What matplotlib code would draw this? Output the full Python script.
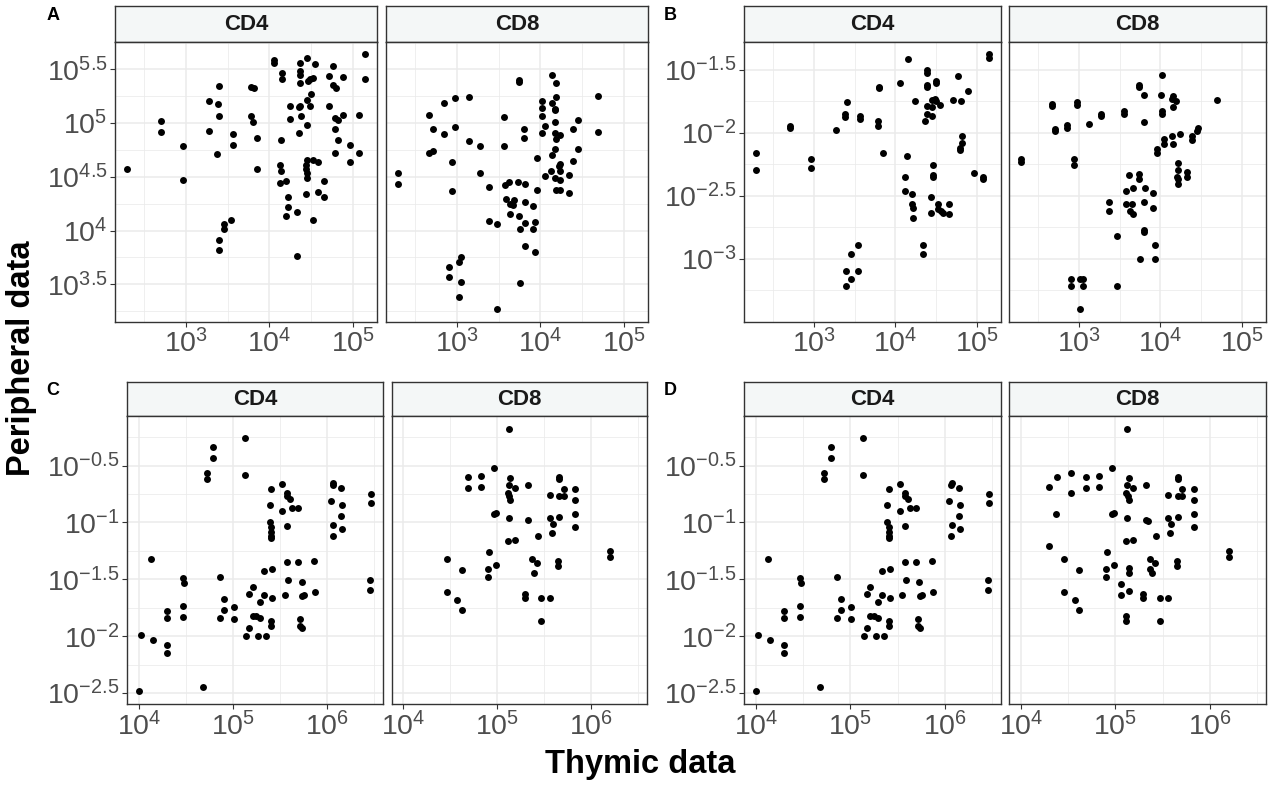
import numpy as np
import matplotlib
matplotlib.use('Agg')
import matplotlib.pyplot as plt
from matplotlib.ticker import FixedLocator, FuncFormatter

plt.rcParams.update({
    'font.family': ['Liberation Sans', 'DejaVu Sans'],
    'mathtext.fontset': 'custom',
    'mathtext.rm': 'Liberation Sans',
    'mathtext.it': 'Liberation Sans:italic',
    'mathtext.bf': 'Liberation Sans:bold',
})

# ---- data: log10(thymic), log10(peripheral) ----
A_CD4_x = [2.29, 2.70, 2.70, 2.96, 2.96, 3.27, 3.38, 3.40, 3.40, 3.27, 3.37, 3.56, 3.56, 3.54, 3.46, 3.46, 3.39, 3.39,
           3.78, 3.81, 3.78, 3.80, 3.85, 3.85, 4.05, 4.05, 4.15, 4.15, 4.24, 4.24, 4.14, 4.12, 4.14, 4.12, 4.20, 4.22,
           4.22, 4.20, 4.33, 4.33, 4.36, 4.45, 4.36, 4.36, 4.36, 4.46, 4.48, 4.52, 4.55, 4.50, 4.45, 4.37, 4.35, 4.48,
           4.38, 4.45, 4.35, 4.45, 4.52, 4.58, 4.44, 4.44, 4.45, 4.45, 4.44, 4.52, 4.58, 4.65, 4.65, 4.71, 4.71, 4.76,
           4.76, 4.80, 4.88, 4.88, 4.79, 4.82, 4.79, 4.82, 4.79, 5.15, 5.15, 5.07, 4.96, 5.07, 4.96]
A_CD4_y = [4.57, 5.02, 4.92, 4.79, 4.47, 5.21, 5.18, 5.35, 5.07, 4.93, 4.71, 4.90, 4.80, 4.10, 4.06, 4.01, 3.91, 3.82,
           5.34, 5.33, 5.07, 5.01, 4.86, 4.57, 5.59, 5.56, 5.47, 5.41, 5.16, 5.04, 4.84, 4.61, 4.55, 4.44, 4.46, 4.31,
           4.22, 4.14, 4.17, 3.76, 5.56, 5.61, 5.49, 5.45, 5.37, 5.39, 5.41, 5.42, 5.55, 5.27, 5.22, 5.16, 5.15, 5.16,
           5.07, 4.98, 4.91, 4.66, 4.66, 4.64, 4.61, 4.57, 4.54, 4.49, 4.34, 4.10, 4.36, 4.46, 4.31, 5.16, 5.44, 5.53,
           5.36, 5.33, 5.43, 5.08, 5.05, 5.03, 4.95, 4.84, 4.72, 5.64, 5.41, 5.08, 4.80, 4.72, 4.64]

A_CD8_x = [2.29, 2.29, 2.67, 2.71, 2.67, 2.71, 2.85, 2.98, 3.14, 2.85, 2.98, 3.14, 2.94, 2.94, 3.28, 3.28, 3.38, 3.38,
           3.48, 3.57, 3.57, 3.74, 3.74, 3.80, 3.80, 3.58, 3.62, 3.73, 3.81, 3.59, 3.64, 3.68, 3.67, 3.81, 3.91, 3.64,
           3.74, 3.81, 3.93, 3.75, 3.91, 3.81, 3.93, 3.96, 3.96, 3.05, 3.03, 2.91, 2.91, 3.05, 3.03, 3.48, 3.75, 4.02,
           4.02, 4.02, 4.05, 4.02, 4.14, 4.14, 4.19, 4.19, 4.17, 4.17, 4.17, 4.17, 4.19, 4.24, 4.17, 4.14, 4.24, 4.22,
           4.05, 4.13, 4.23, 4.17, 4.23, 4.19, 4.23, 4.34, 4.34, 4.39, 4.39, 4.45, 4.45, 4.69, 4.69]
A_CD8_y = [4.54, 4.43, 5.08, 4.95, 4.72, 4.74, 5.19, 5.23, 5.24, 4.90, 4.96, 4.83, 4.64, 4.37, 4.79, 4.54, 4.41, 4.09,
           4.06, 5.06, 4.79, 5.40, 5.38, 4.95, 4.86, 4.42, 4.45, 4.45, 4.43, 4.29, 4.25, 4.28, 4.24, 4.27, 4.23, 4.15,
           4.14, 4.07, 4.08, 4.01, 4.01, 3.86, 3.80, 4.38, 4.68, 3.75, 3.71, 3.66, 3.57, 3.52, 3.38, 3.27, 3.51, 5.21,
           5.14, 5.07, 4.97, 4.91, 5.45, 5.19, 5.37, 5.24, 5.13, 5.12, 5.01, 4.91, 4.85, 4.89, 4.76, 4.70, 4.62, 4.60,
           4.51, 4.55, 4.55, 4.49, 4.47, 4.38, 4.38, 4.35, 4.52, 4.65, 4.95, 5.03, 4.76, 5.25, 4.92]

B_CD4_x = [2.29, 2.29, 2.71, 2.71, 2.96, 2.96, 3.27, 3.40, 3.38, 3.38, 3.56, 3.56, 3.79, 3.79, 3.80, 3.80, 3.85, 3.54,
           3.46, 3.39, 3.54, 3.46, 3.39, 4.05, 4.15, 4.24, 4.14, 4.12, 4.12, 4.20, 4.20, 4.21, 4.21, 4.34, 4.34,
           4.38, 4.38, 4.38, 4.38, 4.50, 4.50, 4.76, 4.89, 4.71, 4.80, 4.45, 4.48, 4.50, 4.55, 4.38, 4.45, 4.38, 4.45,
           4.36, 5.15, 5.15, 4.82, 4.81, 4.79, 4.79, 4.46, 4.46, 4.46, 4.96, 5.07, 5.07, 4.43, 4.43, 4.52, 4.52, 4.56,
           4.58, 4.65, 4.65]
B_CD4_y = [-2.16, -2.30, -1.95, -1.96, -2.21, -2.28, -1.98, -1.76, -1.85, -1.88, -1.87, -1.89, -1.91, -1.95, -1.64,
           -1.65, -2.16, -2.89, -2.96, -3.10, -3.10, -3.16, -3.22, -1.61, -1.42, -1.75, -2.19, -2.35, -2.46, -2.49,
           -2.57, -2.60, -2.68, -2.89, -2.96,
           -1.50, -1.53, -1.62, -1.64, -1.59, -1.61, -1.55, -1.67, -1.74, -1.75, -1.74, -1.73, -1.75, -1.78, -1.79,
           -1.80, -1.85, -1.87, -1.91, -1.38, -1.41, -2.03, -2.08, -2.12, -2.14, -2.26, -2.34, -2.35, -2.32, -2.35,
           -2.37, -2.51, -2.64, -2.57, -2.61, -2.62, -2.64, -2.57, -2.65]

B_CD8_x = [2.29, 2.29, 2.67, 2.67, 2.71, 2.71, 2.85, 2.85, 2.98, 2.98, 2.94, 2.94, 3.13, 3.27, 3.27, 3.56, 3.56, 3.74,
           3.74, 3.80, 3.80, 3.37, 3.37, 3.47, 3.62, 3.74, 3.74, 3.58, 3.67, 3.81, 3.91, 3.58, 3.65, 3.63, 3.67, 3.80,
           3.91, 3.80, 3.80, 3.93, 3.75, 3.93, 2.90, 2.90, 3.02, 3.05, 3.05, 3.02, 3.47,
           4.02, 4.01, 4.02, 4.02, 4.16, 4.14, 4.19, 4.16, 4.69, 4.46, 4.45, 4.39, 4.39, 4.24, 4.14, 4.16, 4.05, 4.05,
           3.96, 3.96, 4.22, 4.22, 4.20, 4.22, 4.22, 4.33, 4.33]
B_CD8_y = [-2.21, -2.23, -1.77, -1.79, -1.97, -1.99, -1.94, -1.96, -1.76, -1.78, -2.21, -2.26, -1.93, -1.85, -1.87,
           -1.83, -1.85, -1.62, -1.64, -1.70, -1.92, -2.55, -2.62, -2.82, -2.34, -2.33, -2.37, -2.46, -2.44, -2.44,
           -2.48, -2.57, -2.57, -2.62, -2.65, -2.55, -2.60, -2.77, -2.79, -2.89, -3.00, -3.00, -3.16, -3.22, -3.16,
           -3.16, -3.22, -3.40, -3.22,
           -1.54, -1.70, -1.83, -1.85, -1.71, -1.73, -1.75, -1.80, -1.74, -1.96, -1.99, -2.03, -2.06, -2.01, -2.03,
           -2.09, -2.05, -2.09, -2.13, -2.16, -2.24, -2.30, -2.35, -2.37, -2.41, -2.31, -2.35]

C_CD4_x = [4.13, 4.02, 4.30, 4.30, 4.47, 4.48, 4.47, 4.47, 4.72, 4.72, 4.79, 4.79, 5.13, 5.13, 4.86, 4.90, 4.90, 4.86,
           5.01, 5.01, 5.21, 5.17, 5.29, 5.33, 5.33, 5.42, 5.42, 5.21, 5.25, 5.29, 5.17, 5.41, 5.41, 5.41, 5.39, 5.39,
           5.41, 5.41, 5.41, 5.41, 5.52, 5.58, 5.58, 5.61, 5.52, 5.63, 5.69, 5.58, 5.58, 5.69, 5.59, 5.55, 5.73, 5.74,
           5.76, 5.86, 5.87, 5.71, 5.71, 5.74, 6.06, 6.07, 6.15, 6.04, 6.16, 6.15, 6.07, 6.16, 6.06, 6.47, 6.47, 6.46,
           6.46, 4.00, 4.68, 4.15, 4.30, 4.30, 5.14, 5.27, 5.35]
C_CD4_y = [-1.32, -1.99, -1.78, -1.84, -1.49, -1.53, -1.73, -1.83, -0.57, -0.62, -0.34, -0.43, -0.26, -0.58, -1.48,
           -1.67, -1.77, -1.84, -1.74, -1.85, -1.57, -1.63, -1.70, -1.64, -1.43, -1.41, -1.66, -1.82, -1.82, -1.84,
           -1.93, -1.87, -1.91, -0.71, -0.85, -1.00, -1.04, -1.08, -1.12, -1.14, -0.66, -0.74, -0.77, -0.79, -0.90,
           -0.87, -0.87, -1.03, -1.35, -1.35, -1.51, -1.64, -1.52, -1.65, -1.64, -1.34, -1.61, -1.85, -1.91, -1.93,
           -0.67, -0.65, -0.70, -0.81, -0.85, -0.94, -1.02, -1.06, -1.12, -0.75, -0.83, -1.51, -1.59, -2.48, -2.45,
           -2.03, -2.08, -2.15, -2.00, -2.00, -2.00]

C_CD8_x = [5.12, 4.97, 4.69, 4.83, 4.69, 4.83, 5.14, 5.12, 5.19, 5.11, 5.13, 5.14, 5.33, 5.66, 5.66, 5.71, 5.56, 5.66,
           5.71, 5.83, 5.83, 5.83, 5.83, 4.97, 4.99, 5.12, 5.33, 5.56, 5.59, 5.66, 5.58, 5.11, 5.19, 5.43, 4.46, 4.46,
           4.62, 4.57, 4.62, 4.91, 4.99, 4.90, 4.90, 5.37, 5.42, 5.39, 5.65, 5.65, 5.29, 5.29, 5.47, 5.56, 5.47, 6.20,
           6.20]
C_CD8_y = [-0.18, -0.52, -0.60, -0.59, -0.70, -0.69, -0.61, -0.67, -0.70, -0.74, -0.77, -0.80, -0.67, -0.60, -0.62,
           -0.71, -0.76, -0.77, -0.77, -0.71, -0.80, -0.93, -1.04, -0.93, -0.92, -0.96, -0.98, -0.96, -1.01, -0.95,
           -1.09, -1.16, -1.15, -1.12, -1.32, -1.61, -1.42, -1.68, -1.77, -1.26, -1.37, -1.41, -1.48, -1.32, -1.36,
           -1.44, -1.34, -1.38, -1.63, -1.66, -1.66, -1.66, -1.87, -1.25, -1.30]

# D/CD8 = the C/CD8 samples plus these extra ones
D_CD8_extra_x = [4.38, 4.53, 4.30, 4.53, 4.37, 4.30, 5.35, 5.37, 5.14, 5.14, 5.06, 5.06, 5.14, 5.11, 5.11]
D_CD8_extra_y = [-0.60, -0.57, -0.69, -0.74, -0.93, -1.21, -0.99, -1.41, -1.40, -1.44, -1.54, -1.64, -1.60, -1.82,
                 -1.87]
D_CD8_x = C_CD8_x + D_CD8_extra_x
D_CD8_y = C_CD8_y + D_CD8_extra_y

# ---- layout (pixels of a 1276 x 786 canvas) ----
W, H = 1276, 786
INK = '#333333'
STRIP_BG = '#F4F7F7'
GRID = '#EBEBEB'

fig = plt.figure(figsize=(W / 100, H / 100), dpi=100)


def box(x0, x1, y0, y1):
    return [x0 / W, 1 - y1 / H, (x1 - x0) / W, (y1 - y0) / H]


def loglim(*series):
    v = np.concatenate([np.asarray(s) for s in series])
    pad = 0.05 * (v.max() - v.min())
    return 10 ** (v.min() - pad), 10 ** (v.max() + pad)


def powfmt(v, pos):
    e = round(np.log10(v), 2)
    return r'$\mathregular{10^{%s}}$' % f'{e:g}'


def facet(xr, strip_y, panel_y, title, xs, ys, xlim, ylim, xmaj, ymaj, first):
    sax = fig.add_axes(box(xr[0], xr[1], strip_y[0], strip_y[1]))
    sax.set_facecolor(STRIP_BG)
    sax.set_xticks([]); sax.set_yticks([])
    for sp in sax.spines.values():
        sp.set_color(INK); sp.set_linewidth(1.0)
    sax.text(0.5, 0.48, title, ha='center', va='center', fontsize=16,
             fontweight='bold', color='#1A1A1A', transform=sax.transAxes)

    ax = fig.add_axes(box(xr[0], xr[1], panel_y[0], panel_y[1]))
    ax.set_xscale('log'); ax.set_yscale('log')
    ax.set_axisbelow(True)
    ax.scatter(10 ** np.asarray(xs), 10 ** np.asarray(ys), s=25, c='black',
               linewidths=0, zorder=3)
    ax.set_xlim(xlim); ax.set_ylim(ylim)
    xmaj = np.asarray(xmaj, float); ymaj = np.asarray(ymaj, float)
    ax.xaxis.set_major_locator(FixedLocator(10 ** xmaj))
    ax.xaxis.set_minor_locator(FixedLocator(10 ** np.r_[xmaj - 0.5, xmaj[-1] + 0.5]))
    ax.yaxis.set_major_locator(FixedLocator(10 ** ymaj))
    ax.yaxis.set_minor_locator(FixedLocator(10 ** np.r_[ymaj - 0.25, ymaj[-1] + 0.25]))
    ax.xaxis.set_major_formatter(FuncFormatter(powfmt))
    ax.yaxis.set_major_formatter(FuncFormatter(powfmt))
    ax.xaxis.set_minor_formatter(FuncFormatter(lambda v, p: ''))
    ax.yaxis.set_minor_formatter(FuncFormatter(lambda v, p: ''))
    ax.grid(which='major', color=GRID, lw=1.1)
    ax.grid(which='minor', color=GRID, lw=0.55)
    ax.tick_params(which='minor', length=0)
    ax.tick_params(which='major', length=3.5, width=0.8, color=INK,
                   labelsize=20.5, labelcolor='#4D4D4D', pad=2)
    if not first:
        ax.tick_params(axis='y', which='both', left=False, labelleft=False)
    for sp in ax.spines.values():
        sp.set_color(INK); sp.set_linewidth(1.0)
    return ax


ROW1_STRIP, ROW1_PANEL = (5.7, 41.7), (41.7, 321.7)
ROW2_STRIP, ROW2_PANEL = (381.7, 416.0), (416.0, 704.0)
Y_C = [-2.5, -2, -1.5, -1, -0.5]

# A: counts
xl = loglim(A_CD4_x, A_CD8_x); yl = loglim(A_CD4_y, A_CD8_y)
facet((115, 377.3), ROW1_STRIP, ROW1_PANEL, 'CD4', A_CD4_x, A_CD4_y, xl, yl,
      [3, 4, 5], [3.5, 4, 4.5, 5, 5.5], True)
facet((385.7, 648.3), ROW1_STRIP, ROW1_PANEL, 'CD8', A_CD8_x, A_CD8_y, xl, yl,
      [3, 4, 5], [3.5, 4, 4.5, 5, 5.5], False)

# B: proportions
xl = loglim(B_CD4_x, B_CD8_x); yl = loglim(B_CD4_y, B_CD8_y)
facet((744.3, 1001), ROW1_STRIP, ROW1_PANEL, 'CD4', B_CD4_x, B_CD4_y, xl, yl,
      [3, 4, 5], [-3, -2.5, -2, -1.5], True)
facet((1009.3, 1265.7), ROW1_STRIP, ROW1_PANEL, 'CD8', B_CD8_x, B_CD8_y, xl, yl,
      [3, 4, 5], [-3, -2.5, -2, -1.5], False)

# C
xl = loglim(C_CD4_x, C_CD8_x); yl = loglim(C_CD4_y, C_CD8_y)
facet((127.3, 382.7), ROW2_STRIP, ROW2_PANEL, 'CD4', C_CD4_x, C_CD4_y, xl, yl,
      [4, 5, 6], Y_C, True)
facet((391.7, 647), ROW2_STRIP, ROW2_PANEL, 'CD8', C_CD8_x, C_CD8_y, xl, yl,
      [4, 5, 6], Y_C, False)

# D
xl = loglim(C_CD4_x, D_CD8_x); yl = loglim(C_CD4_y, D_CD8_y)
facet((744.3, 1001), ROW2_STRIP, ROW2_PANEL, 'CD4', C_CD4_x, C_CD4_y, xl, yl,
      [4, 5, 6], Y_C, True)
facet((1009.3, 1265.7), ROW2_STRIP, ROW2_PANEL, 'CD8', D_CD8_x, D_CD8_y, xl, yl,
      [4, 5, 6], Y_C, False)

for lab, (px, py) in zip('ABCD', [(53, 15), (670, 15), (53, 390), (670, 390)]):
    fig.text(px / W, 1 - py / H, lab, fontsize=13, fontweight='bold',
             ha='center', va='center')

fig.text(22 / W, 1 - 358 / H, 'Peripheral data', rotation=90, fontsize=23.5,
         fontweight='bold', ha='center', va='center')
fig.text(640 / W, 1 - 764 / H, 'Thymic data', fontsize=23.5, fontweight='bold',
         ha='center', va='center')

fig.savefig('out.png', dpi=100)
